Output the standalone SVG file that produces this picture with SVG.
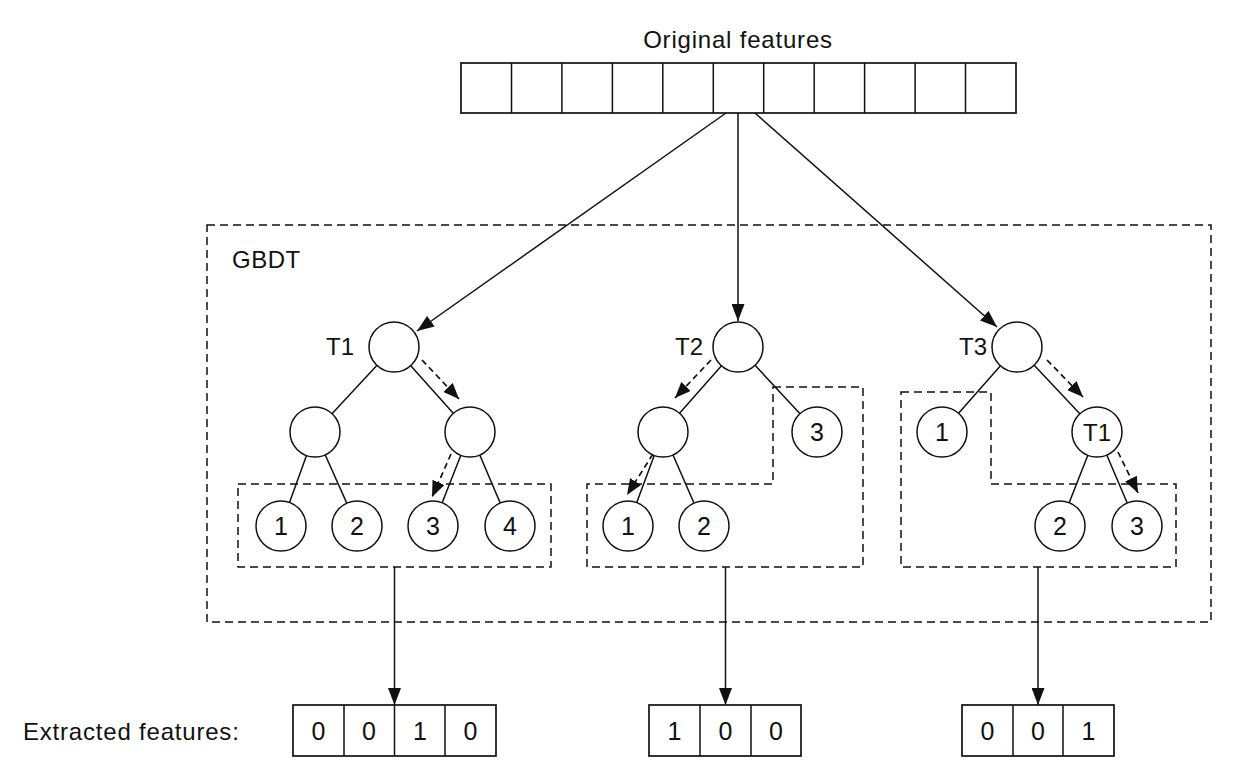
<svg xmlns="http://www.w3.org/2000/svg" width="1244" height="776" viewBox="0 0 1244 776">
<style>
text{font-family:"Liberation Sans",Arial,Helvetica,sans-serif;font-size:24px;fill:#111;letter-spacing:0.8px}
.c{text-anchor:middle}
.d{font-size:25px;letter-spacing:0}
.n circle{fill:#fff;stroke:#111;stroke-width:1.5}
.e{stroke:#111;stroke-width:1.5;fill:none}
.box{fill:#fff;stroke:#111;stroke-width:1.7}
.dbox{fill:none;stroke:#111;stroke-width:1.5;stroke-dasharray:8,5}
.arr{stroke:#111;stroke-width:1.5;fill:none;marker-end:url(#ah)}
.darr{stroke:#111;stroke-width:1.7;fill:none;stroke-dasharray:6,4;marker-end:url(#dh)}
</style>
<defs>
<marker id="ah" viewBox="0 0 17 13" refX="17" refY="6.5" markerWidth="17" markerHeight="13" markerUnits="userSpaceOnUse" orient="auto"><path d="M0,0 L17,6.5 L0,13 z" fill="#111"/></marker>
<marker id="dh" viewBox="0 0 16 13" refX="16" refY="6.5" markerWidth="16" markerHeight="13" markerUnits="userSpaceOnUse" orient="auto"><path d="M0,0 L16,6.5 L0,13 z" fill="#111"/></marker>
</defs>
<rect width="1244" height="776" fill="#fff"/>

<g id="original-features">
<text x="738" y="48" class="c">Original features</text>
<rect class="box" x="461" y="63" width="555" height="50"/>
<path class="e" d="M511.5,63V113M561.9,63V113M612.4,63V113M662.8,63V113M713.3,63V113M763.7,63V113M814.2,63V113M864.6,63V113M915.1,63V113M965.5,63V113"/>
</g>

<g id="gbdt">
<rect class="dbox" x="207" y="225" width="1004" height="397"/>
<text x="232" y="268" style="letter-spacing:0.5px">GBDT</text>
</g>

<g id="connectors">
<line class="arr" x1="726" y1="113" x2="417" y2="331"/>
<line class="arr" x1="738" y1="113" x2="738" y2="321"/>
<line class="arr" x1="755" y1="113" x2="997" y2="327"/>
<path class="e" d="M394,347L315,432M394,347L470,432M315,432L281,526M315,432L357,526M470,432L433,526M470,432L510,526"/>
<path class="e" d="M738,347L663,432M738,347L817,432M663,432L628,526M663,432L704,526"/>
<path class="e" d="M1017,347L942,432M1017,347L1097,432M1097,432L1060,526M1097,432L1137,526"/>
<line class="darr" x1="422" y1="360" x2="459" y2="399"/>
<line class="darr" x1="451" y1="454" x2="432" y2="497"/>
<line class="darr" x1="711" y1="360" x2="675" y2="398"/>
<line class="darr" x1="653" y1="454" x2="627" y2="495"/>
<line class="darr" x1="1047" y1="360" x2="1083" y2="397"/>
<line class="darr" x1="1118" y1="452" x2="1138" y2="493"/>
<line class="arr" x1="394.5" y1="567" x2="394.5" y2="705"/>
<line class="arr" x1="725.5" y1="567" x2="725.5" y2="705"/>
<line class="arr" x1="1038" y1="567" x2="1038" y2="705"/>
</g>

<g id="tree1">
<text x="354" y="355" style="text-anchor:end;letter-spacing:0">T1</text>
<g class="n"><circle cx="394" cy="347" r="25"/><circle cx="315" cy="432" r="25"/><circle cx="470" cy="432" r="25"/>
<circle cx="281" cy="526" r="25"/><circle cx="357" cy="526" r="25"/><circle cx="433" cy="526" r="25"/><circle cx="510" cy="526" r="25"/></g>
<text x="281" y="535" class="c d">1</text><text x="357" y="535" class="c d">2</text><text x="433" y="535" class="c d">3</text><text x="510" y="535" class="c d">4</text>
<rect class="dbox" x="238" y="484" width="313" height="83"/>
</g>

<g id="tree2">
<text x="703" y="355" style="text-anchor:end;letter-spacing:0">T2</text>
<g class="n"><circle cx="738" cy="347" r="25"/><circle cx="663" cy="432" r="25"/><circle cx="817" cy="432" r="25"/>
<circle cx="628" cy="526" r="25"/><circle cx="704" cy="526" r="25"/></g>
<text x="817" y="441" class="c d">3</text><text x="628" y="535" class="c d">1</text><text x="704" y="535" class="c d">2</text>
<path class="dbox" d="M773,387H863V567H587V484H773Z"/>
</g>

<g id="tree3">
<text x="987" y="355" style="text-anchor:end;letter-spacing:0">T3</text>
<g class="n"><circle cx="1017" cy="347" r="25"/><circle cx="942" cy="432" r="25"/><circle cx="1097" cy="432" r="25"/>
<circle cx="1060" cy="526" r="25"/><circle cx="1137" cy="526" r="25"/></g>
<text x="942" y="441" class="c d">1</text><text x="1097" y="441" class="c" style="letter-spacing:0">T1</text>
<text x="1060" y="535" class="c d">2</text><text x="1137" y="535" class="c d">3</text>
<path class="dbox" d="M901,392H991V484H1176V567H901Z"/>
</g>

<g id="extracted">
<text x="23" y="740">Extracted features:</text>
<g id="out1">
<rect class="box" x="293" y="705" width="203" height="51"/>
<path class="e" d="M344,705V756M394.5,705V756M445,705V756"/>
<text x="318.5" y="740" class="c d">0</text><text x="369" y="740" class="c d">0</text><text x="420" y="740" class="c d">1</text><text x="470.5" y="740" class="c d">0</text>
</g>
<g id="out2">
<rect class="box" x="649" y="705" width="152" height="51"/>
<path class="e" d="M700,705V756M751,705V756"/>
<text x="674.5" y="740" class="c d">1</text><text x="725.5" y="740" class="c d">0</text><text x="776" y="740" class="c d">0</text>
</g>
<g id="out3">
<rect class="box" x="962" y="705" width="152" height="51"/>
<path class="e" d="M1013,705V756M1063,705V756"/>
<text x="987.5" y="740" class="c d">0</text><text x="1038" y="740" class="c d">0</text><text x="1088.5" y="740" class="c d">1</text>
</g>
</g>
</svg>
